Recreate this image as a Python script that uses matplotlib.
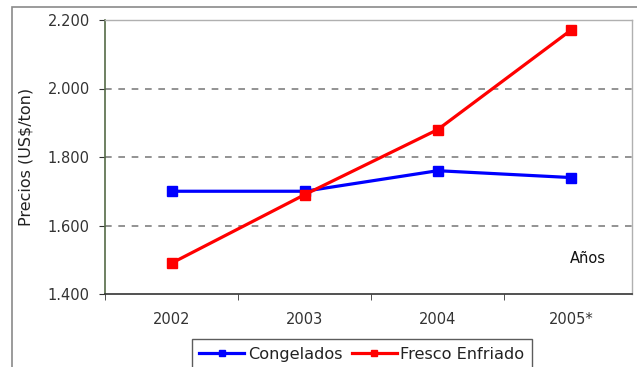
import matplotlib
matplotlib.use("Agg")
import matplotlib.pyplot as plt
from matplotlib.patches import Rectangle
from matplotlib.ticker import FuncFormatter

plt.rcParams['font.family'] = ['DejaVu Sans']

years = ["2002", "2003", "2004", "2005*"]
congelados = [1700, 1700, 1760, 1740]
fresco_enfriado = [1490, 1690, 1880, 2170]
y_ticks = [1400, 1600, 1800, 2000, 2200]

fig = plt.figure(figsize=(6.37, 3.67), dpi=100)
W, H = 637, 367

# outer chart frame
fig.patches.append(Rectangle((12 / W, -0.1), 1.2, 1 - 7 / H + 0.1,
                             transform=fig.transFigure, fill=False,
                             edgecolor="#8a8a8a", linewidth=1.2))

ax = fig.add_axes([105 / W, 1 - 294 / H, (632 - 105) / W, 274 / H])
x = range(len(years))
ax.plot(x, congelados, color="#0000ff", linewidth=2.3, marker="s",
        markersize=6.5, label="Congelados")
ax.plot(x, fresco_enfriado, color="#ff0000", linewidth=2.3, marker="s",
        markersize=6.5, label="Fresco Enfriado")

ax.set_ylim(1400, 2200)
ax.set_xlim(-0.5, 3.46)
ax.set_yticks(y_ticks)
ax.yaxis.set_major_formatter(FuncFormatter(lambda v, p: f"{int(v):,}".replace(",", ".")))
ax.set_xticks(list(x))
ax.set_xticklabels(years)
ax.set_xticks([-0.5, 0.5, 1.5, 2.5], minor=True)
ax.tick_params(axis="x", which="major", length=0, pad=13, labelsize=10.5, labelcolor="#333333")
ax.tick_params(axis="x", which="minor", length=4, direction="out", color="#333333")
ax.tick_params(axis="y", length=4, direction="out", color="#333333", pad=7,
               labelsize=10.5, labelcolor="#333333")

for v in y_ticks[1:-1]:
    ax.axhline(v, color="#808080", linestyle=(0, (4, 4)), linewidth=1.2, zorder=0)

ax.spines["left"].set_color("#556b47")
ax.spines["left"].set_linewidth(1.2)
ax.spines["bottom"].set_color("#333333")
ax.spines["bottom"].set_linewidth(1.2)
for s in ("top", "right"):
    ax.spines[s].set_color("#b0b0b0")
    ax.spines[s].set_linewidth(1.0)

ax.set_ylabel("Precios (US$/ton)", fontsize=11.5, color="#222222", labelpad=10)
ax.text(2.99, 1505, "Años", fontsize=10.5, color="#111111", ha="left", va="center")

leg = fig.legend(loc="lower left", bbox_to_anchor=(184 / W, -10 / H), ncol=2,
                 frameon=True, fancybox=False, fontsize=11.6, handlelength=2.8,
                 handletextpad=0.2, columnspacing=0.6, borderpad=0.45,
                 markerscale=0.6)
leg.get_frame().set_edgecolor("#333333")
leg.get_frame().set_linewidth(1.0)
for t in leg.get_texts():
    t.set_color("#222222")

fig.savefig("out.png", dpi=100)
